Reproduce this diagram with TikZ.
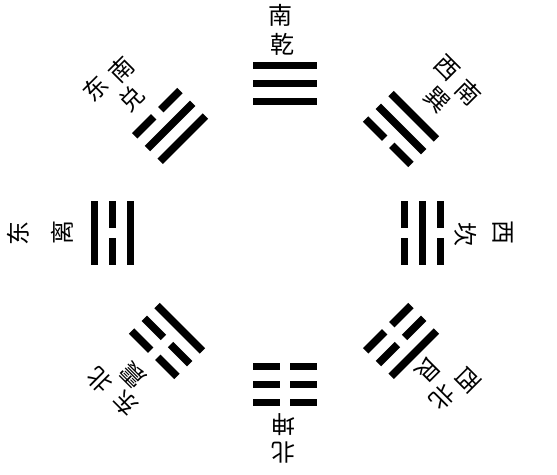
\documentclass[tikz,border=0pt]{standalone}
\usepackage{fontspec}
\newfontfamily\cjk{Noto Sans CJK SC}
% one line: offset, 1 = yang / 0 = yin
\newcommand{\yao}[2]{%
  \ifnum#2=1 \fill (-32,#1-3.75) rectangle (32,#1+3.75);%
  \else \fill (-32,#1-3.75) rectangle (-5,#1+3.75);
        \fill (5,#1-3.75) rectangle (32,#1+3.75);\fi}
% trigram: centre, angle, lines from the inside out
\newcommand{\gua}[5]{%
  \begin{scope}[shift={(#1)},rotate=#2]
    \yao{-18}{#3}\yao{0}{#4}\yao{18}{#5}
  \end{scope}}
\begin{document}
\begin{tikzpicture}[x=1pt,y=1pt,
    zi/.style={font=\cjk\fontsize{24}{24}\selectfont,inner sep=0pt}]
  \useasboundingbox (0,0) rectangle (557,474);
  \gua{285,390.5}{0}{1}{1}{1}
  \gua{170,348}{45}{1}{1}{0}
  \gua{112.7,241}{90}{1}{0}{1}
  \gua{167,133}{135}{1}{0}{0}
  \gua{401,345}{-45}{0}{1}{1}
  \gua{422.6,241}{-90}{0}{1}{0}
  \gua{401,133}{-135}{0}{0}{1}
  \gua{285,89.5}{180}{0}{0}{0}
  % south
  \node[zi] (s) at (280,459) {南};
  \node[zi] (qian) at (282,430) {乾};
  % south-east
  \node[zi,rotate=45] (se1) at (95,385.7) {东};
  \node[zi,rotate=45] (se2) at (121.7,404) {南};
  \node[zi,rotate=45] (dui) at (131.7,375.7) {兑};
  % east
  \node[zi,rotate=90] (e) at (18,240) {东};
  \node[zi,rotate=90] (li) at (62,241.5) {离};
  % north-east
  \node[zi,rotate=135] (ne1) at (125,70.7) {东};
  \node[zi,rotate=135] (ne2) at (100,94) {北};
  \node[zi,rotate=135] (zhen) at (133.3,99) {震};
  % north
  \node[zi,rotate=180] (kun) at (283,49) {坤};
  \node[zi,rotate=180] (n) at (283,21) {北};
  % north-west
  \node[zi,rotate=-135] (nw1) at (468,94) {西};
  \node[zi,rotate=-135] (nw2) at (442,77) {北};
  \node[zi,rotate=-135] (gen) at (428,104) {艮};
  % west
  \node[zi,rotate=-90] (kan) at (466,239.5) {坎};
  \node[zi,rotate=-90] (w) at (503,241) {西};
  % south-west
  \node[zi,rotate=-45] (sw1) at (446.7,405.7) {西};
  \node[zi,rotate=-45] (sw2) at (468,381) {南};
  \node[zi,rotate=-45] (xun) at (436.7,374) {巽};
\end{tikzpicture}
\end{document}
